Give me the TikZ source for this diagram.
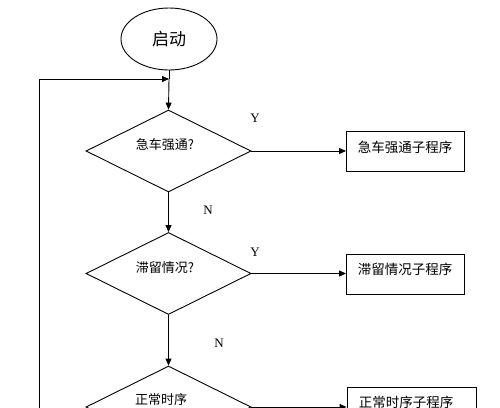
\documentclass[tikz,border=0pt]{standalone}
\usepackage{fontspec}
\setmainfont{Liberation Serif}
\newfontfamily\cjk{Noto Sans CJK SC}
\usetikzlibrary{shapes.geometric,arrows.meta}
\begin{document}
\begin{tikzpicture}[x=1pt,y=-1pt,
 line/.style={line width=0.9pt,draw=black},
 arr/.style={line, -{Triangle[length=7pt,width=6pt]}},
 dec/.style={diamond, line, minimum width=165pt, minimum height=82pt, inner sep=0pt},
 sub/.style={rectangle, line, minimum height=40pt, inner sep=0pt},
 ctext/.style={font=\cjk\fontsize{13}{15}\selectfont, inner sep=0pt},
 btext/.style={font=\cjk\fontsize{13.5}{15}\selectfont, inner sep=0pt},
 yn/.style={font=\fontsize{13}{15}\selectfont, inner sep=0pt}]
\clip (0,0) rectangle (500,407);
\node[ellipse, line, minimum width=96pt, minimum height=62pt, inner sep=0pt, font=\cjk\fontsize{17}{19}\selectfont] (start) at (169,39) {启动};
\coordinate (m) at (169,79);
\coordinate (lb) at (39,440);
\node[dec] (d1) at (168.5,151) {};
\node[dec] (d2) at (168.5,273.5) {};
\node[dec] (d3) at (168.5,407) {};
\node[sub, minimum width=118pt] (b1) at (405.5,151) {};
\node[sub, minimum width=118pt] (b2) at (405.5,274) {};
\node[sub, minimum width=129pt] (b3) at (411.5,407) {};
\node[ctext] (t1) at (165,145) {急车强通?};
\node[ctext] (t2) at (165,268) {滞留情况?};
\node[ctext] (t3) at (161,400) {正常时序};
\node[btext] (bt1) at (405,147) {急车强通子程序};
\node[btext] (bt2) at (405,269) {滞留情况子程序};
\node[btext] (bt3) at (406,402) {正常时序子程序};
\node[yn] (y1) at (255,118) {Y};
\node[yn] (y2) at (255,252) {Y};
\node[yn] (n1) at (208,210) {N};
\node[yn] (n2) at (219,343) {N};
\draw[line] (start.south) -- (m);
\draw[arr] (m) -- (d1.north);
\draw[arr] (lb) |- (m);
\draw[arr] (d1.south) -- (d2.north);
\draw[arr] (d2.south) -- (d3.north);
\draw[arr] (d1.east) -- (d1.east -| b1.west);
\draw[arr] (d2.east) -- (d2.east -| b2.west);
\draw[arr] (d3.east) -- (d3.east -| b3.west);
\end{tikzpicture}
\end{document}
